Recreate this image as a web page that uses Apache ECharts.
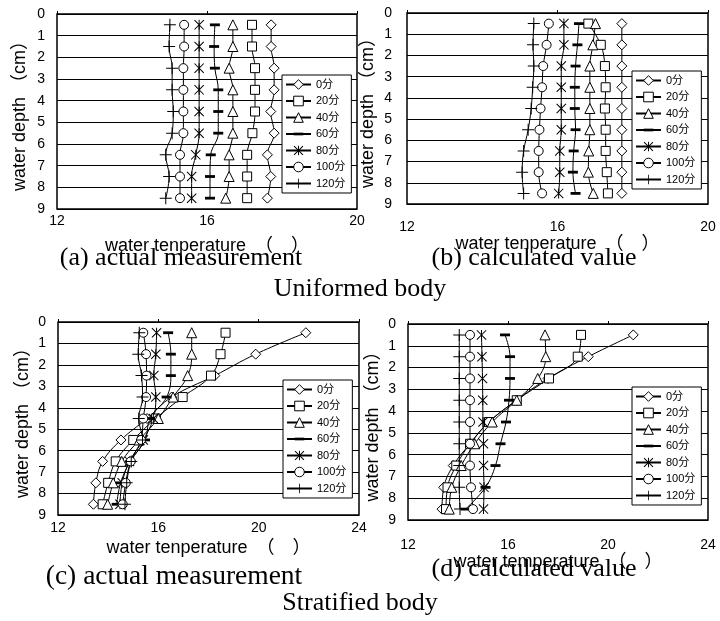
<!DOCTYPE html>
<html>
<head>
<meta charset="utf-8">
<script src="https://cdn.jsdelivr.net/npm/echarts@6/dist/echarts.min.js"></script>
<style>
  html, body { margin: 0; padding: 0; background: #fff; }
  #chart { width: 720px; height: 621px; }
</style>
</head>
<body>
<div id="chart"></div>
<script>
const depths = [0.5, 1.5, 2.5, 3.5, 4.5, 5.5, 6.5, 7.5, 8.5]
const seriesNames = ['0分', '20分', '40分', '60分', '80分', '100分', '120分']

// (a) uniformed body, actual measurement
const uniformMeasured = [
  [17.71, 17.71, 17.79, 17.79, 17.70, 17.79, 17.61, 17.70, 17.61],
  [17.20, 17.20, 17.28, 17.28, 17.28, 17.21, 17.07, 17.07, 17.07],
  [16.69, 16.69, 16.59, 16.69, 16.69, 16.69, 16.59, 16.59, 16.50],
  [16.21, 16.19, 16.21, 16.30, 16.30, 16.30, 16.10, 16.08, 16.08],
  [15.79, 15.79, 15.79, 15.79, 15.79, 15.79, 15.70, 15.59, 15.59],
  [15.39, 15.39, 15.37, 15.37, 15.37, 15.37, 15.28, 15.28, 15.28],
  [15.01, 14.99, 15.07, 15.07, 15.10, 15.07, 14.90, 14.99, 14.90]
]

// (b) uniformed body, calculated value
const uniformCalculated = [
  [17.71, 17.71, 17.71, 17.71, 17.71, 17.71, 17.71, 17.71, 17.71],
  [16.82, 17.15, 17.26, 17.28, 17.26, 17.28, 17.28, 17.31, 17.34],
  [17.01, 16.94, 16.86, 16.86, 16.86, 16.86, 16.83, 16.82, 16.95],
  [16.57, 16.53, 16.48, 16.46, 16.46, 16.48, 16.43, 16.41, 16.48],
  [16.17, 16.17, 16.10, 16.10, 16.10, 16.10, 16.06, 16.06, 16.03],
  [15.77, 15.71, 15.62, 15.59, 15.55, 15.52, 15.50, 15.50, 15.59],
  [15.37, 15.35, 15.37, 15.34, 15.30, 15.22, 15.10, 15.06, 15.10]
]

// (c) stratified body, actual measurement
const stratMeasured = [
  [21.88, 19.88, 18.25, 16.53, 15.55, 14.51, 13.78, 13.51, 13.41],
  [18.68, 18.48, 18.10, 16.97, 15.90, 15.00, 14.30, 14.00, 13.78],
  [17.33, 17.33, 17.17, 16.59, 16.00, 15.24, 14.54, 14.20, 13.98],
  [16.39, 16.50, 16.50, 16.33, 15.67, 15.47, 14.88, 14.50, 14.34],
  [15.93, 15.90, 15.82, 15.90, 15.80, 15.40, 14.85, 14.56, 14.47],
  [15.40, 15.51, 15.53, 15.51, 15.40, 15.31, 14.90, 14.70, 14.58],
  [15.24, 15.20, 15.33, 15.37, 15.22, 15.37, 14.92, 14.74, 14.67]
]

// (d) stratified body, calculated value
const stratCalculated = [
  [21.01, 19.21, 17.60, 16.34, 15.24, 14.48, 13.81, 13.43, 13.36],
  [18.92, 18.79, 17.64, 16.35, 15.24, 14.48, 13.93, 13.58, 13.52],
  [17.48, 17.51, 17.19, 16.35, 15.37, 14.67, 14.13, 13.75, 13.65],
  [15.88, 16.08, 16.08, 16.04, 15.92, 15.70, 15.50, 15.10, 14.30],
  [14.94, 14.96, 14.98, 14.99, 15.00, 15.02, 15.02, 15.04, 15.02],
  [14.48, 14.48, 14.48, 14.48, 14.48, 14.48, 14.48, 14.52, 14.60],
  [14.05, 14.05, 14.05, 14.05, 14.05, 14.05, 14.05, 14.05, 14.08]
]

const xMaxes = [20, 20, 24, 24]
const xNames = ['water tenperature　（　）', 'water tenperature　（　）', 'water tenperature　（　）', 'water temperature　（　）']
const yName = 'water depth （cm）'
const captions = ['(a) actual measurement', '(b) calculated value', '(c) actual measurement', '(d) calculated value']
const bodyTitles = ['Uniformed body', 'Stratified body']

const SANS = "'Liberation Sans', Arial, 'Noto Sans CJK JP', sans-serif"
const SERIF = "'Liberation Serif', 'Times New Roman', serif"

// markers: diamond, square, triangle, bold dash, asterisk, circle, plus
const DASH = 'path://M0,0M10,10M0,3.6L10,3.6L10,6.4L0,6.4Z'
const STAR = 'path://M0,1.7L1.7,0L24,22.3L22.3,24Z M22.3,0L24,1.7L1.7,24L0,22.3Z M10.8,0L13.2,0L13.2,24L10.8,24Z'
const PLUS = 'path://M11,0L13,0L13,11L24,11L24,13L13,13L13,24L11,24L11,13L0,13L0,11L11,11Z'
const markerShapes = ['diamond', 'rect', 'triangle', DASH, STAR, 'circle', PLUS]
const markerSizes = [10, 9, 10, 10, 10, 9, 12]
const hollow = [true, true, true, false, false, true, false]

const panels = [
  { grid: { left: 57, top: 14, width: 300, height: 195 }, labelMargin: 5, nameGap: 28, yMargin: 12, yGap: 28, legend: { left: 282, top: 75 } },
  { grid: { left: 407, top: 13, width: 301, height: 191 }, labelMargin: 16, nameGap: 24, yMargin: 15, yGap: 30, legend: { left: 632, top: 71 } },
  { grid: { left: 58, top: 322, width: 301, height: 193 }, labelMargin: 6, nameGap: 24, yMargin: 12, yGap: 26, legend: { left: 283, top: 380 } },
  { grid: { left: 408, top: 324, width: 300, height: 196 }, labelMargin: 18, nameGap: 29, yMargin: 12, yGap: 26, legend: { left: 632, top: 387 } }
]
const panelData = [uniformMeasured, uniformCalculated, stratMeasured, stratCalculated]

function markerStyle(k) {
  return hollow[k]
    ? { color: '#fff', borderColor: '#000', borderWidth: 1 }
    : { color: '#000', borderColor: '#000', borderWidth: 0 }
}

function makeSeries(values, p) {
  return values.map((temps, k) => ({
    name: seriesNames[k],
    type: 'line',
    xAxisIndex: p,
    yAxisIndex: p,
    smooth: 0.4,
    symbol: markerShapes[k],
    symbolSize: markerSizes[k],
    lineStyle: { color: '#000', width: 1 },
    itemStyle: markerStyle(k),
    emphasis: { disabled: true },
    z: 3,
    data: depths.map((d, i) => [temps[i], d])
  }))
}

const grids = panels.map(p => ({
  ...p.grid,
  show: true,
  borderColor: '#000',
  borderWidth: 1.5,
  backgroundColor: 'transparent'
}))

const xAxes = []
panels.forEach((p, i) => {
  xAxes.push({
    gridIndex: i,
    type: 'value',
    min: 12,
    max: xMaxes[i],
    interval: 4,
    axisLine: { show: false },
    axisTick: { show: false },
    splitLine: { show: false },
    axisLabel: { margin: p.labelMargin, fontSize: 14, color: '#000', fontFamily: SANS },
    name: xNames[i],
    nameLocation: 'middle',
    nameGap: p.nameGap,
    nameTextStyle: { fontSize: 18, color: '#000', fontFamily: SANS }
  })
})
// short tick marks on the top edge
panels.forEach((p, i) => {
  xAxes.push({
    gridIndex: i,
    type: 'value',
    position: 'top',
    min: 12,
    max: xMaxes[i],
    interval: 4,
    axisLine: { show: false },
    axisLabel: { show: false },
    splitLine: { show: false },
    axisTick: { show: true, length: 3, lineStyle: { color: '#000', width: 1 } }
  })
})

const yAxes = panels.map((p, i) => ({
  gridIndex: i,
  type: 'value',
  inverse: true,
  min: 0,
  max: 9,
  interval: 1,
  axisLine: { show: false },
  axisTick: { show: false },
  splitLine: { show: true, lineStyle: { color: '#000', width: 1 } },
  axisLabel: { margin: p.yMargin, fontSize: 14, color: '#000', fontFamily: SANS },
  name: yName,
  nameLocation: 'middle',
  nameRotate: 90,
  nameGap: p.yGap,
  nameTextStyle: { fontSize: 18, color: '#000', fontFamily: SANS }
}))

const legends = panels.map(p => ({
  ...p.legend,
  orient: 'vertical',
  backgroundColor: '#fff',
  borderColor: '#000',
  borderWidth: 1,
  borderRadius: 0,
  padding: [4, 6, 4, 3],
  itemWidth: 25,
  itemHeight: 12,
  itemGap: 5.5,
  selectedMode: false,
  textStyle: { fontSize: 11, color: '#000', fontFamily: SANS },
  data: seriesNames.map((n, k) => ({
    name: n,
    itemStyle: { borderWidth: hollow[k] ? 1 : 0 }
  }))
}))

const captionPos = [[181, 258, 26], [534, 258, 26], [174, 577, 27.5], [534, 569, 26]]
const titlePos = [[360, 289], [360, 603]]

function textEl(str, x, y, size) {
  return {
    type: 'text',
    x: x,
    y: y,
    silent: true,
    style: {
      text: str,
      font: size + 'px ' + SERIF,
      fill: '#000',
      align: 'center',
      verticalAlign: 'middle',
      textAlign: 'center',
      textVerticalAlign: 'middle'
    }
  }
}

const graphics = captions.map((c, i) => textEl(c, captionPos[i][0], captionPos[i][1], captionPos[i][2]))
  .concat(bodyTitles.map((t, i) => textEl(t, titlePos[i][0], titlePos[i][1], 26)))

const chart = echarts.init(document.getElementById('chart'))
chart.setOption({
  animation: false,
  backgroundColor: '#fff',
  textStyle: { fontFamily: SANS },
  grid: grids,
  xAxis: xAxes,
  yAxis: yAxes,
  legend: legends,
  series: panelData.map((v, p) => makeSeries(v, p)).flat(),
  graphic: graphics
})
</script>
</body>
</html>
